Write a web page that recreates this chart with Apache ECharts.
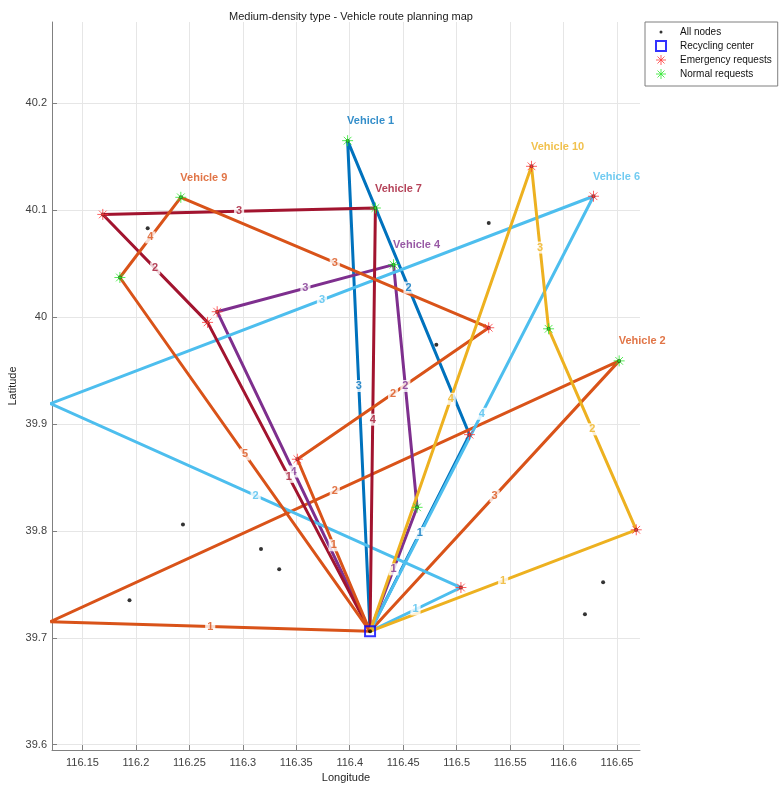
<!DOCTYPE html>
<html><head><meta charset="utf-8">
<script src="https://cdn.jsdelivr.net/npm/echarts@6/dist/echarts.min.js"></script>
<style>html,body{margin:0;padding:0;background:#fff}#c{width:780px;height:787px}</style>
</head><body><div id="c"></div>
<script>
const chartTitle = 'Medium-density type - Vehicle route planning map';
const xTicks = [116.15,116.2,116.25,116.3,116.35,116.4,116.45,116.5,116.55,116.6,116.65];
const yTicks = [39.6,39.7,39.8,39.9,40,40.1,40.2];
const xRange = [116.1215, 116.6715];
const yRange = [39.595, 40.276];
const center = [116.419, 39.706];
const otherNodes = [[116.211,40.083],[116.530,40.088],[116.481,39.974],[116.244,39.806],[116.317,39.783],[116.334,39.764],[116.194,39.735],[116.637,39.752],[116.620,39.722]];

const vehicleNames = ['Vehicle 1','Vehicle 2','Vehicle 4','Vehicle 6','Vehicle 7','Vehicle 9','Vehicle 10'];
const vehicleColors = ['#0072BD','#D95319','#7E2F8E','#4DBEEE','#A2142F','#D95319','#EDB120'];
const stopsV1 = [[116.512,39.890],[116.398,40.165]];
const kindsV1 = ['E','N'];
const stopsV2 = [[116.120,39.715],[116.652,39.959]];
const kindsV2 = ['N','N'];
const stopsV4 = [[116.463,39.822],[116.441,40.049],[116.276,40.005]];
const kindsV4 = ['N','N','E'];
const stopsV6 = [[116.504,39.747],[116.120,39.919],[116.628,40.113]];
const kindsV6 = ['E','N','E'];
const stopsV7 = [[116.267,39.995],[116.169,40.096],[116.424,40.102]];
const kindsV7 = ['E','E','N'];
const stopsV9 = [[116.351,39.867],[116.530,39.990],[116.242,40.112],[116.185,40.037]];
const kindsV9 = ['E','E','N','N'];
const stopsV10 = [[116.668,39.801],[116.586,39.989],[116.570,40.141]];
const kindsV10 = ['E','N','E'];

const allStops = [stopsV1, stopsV2, stopsV4, stopsV6, stopsV7, stopsV9, stopsV10];
const allKinds = [kindsV1, kindsV2, kindsV4, kindsV6, kindsV7, kindsV9, kindsV10];

const FONT = '"Liberation Sans", Arial, Helvetica, sans-serif';
const ASTERISK = 'path://M5,0L5,10M0,5L10,5M1.5,1.5L8.5,8.5M1.5,8.5L8.5,1.5';
const SQUARE = 'path://M0,0L10,0L10,10L0,10Z';
const DOT = 'path://M0,0L0.01,0L0,0.01Z M10,10L9.99,10L10,9.99Z M5,3.5A1.5,1.5 0 1 1 5,6.5A1.5,1.5 0 1 1 5,3.5Z';
const RED = '#ff3b3b', GREEN = '#2ee62e', BLUE = '#0000ff';

const series = [];
allStops.forEach((stops, i) => {
  const route = [center].concat(stops, [center]);
  const color = vehicleColors[i];
  series.push({ type:'line', name: vehicleNames[i], data: route, symbol:'none', silent:true,
    lineStyle:{width:3, color}, itemStyle:{color}, z:2 });
  const mids = [];
  for (let k = 0; k < route.length - 1; k++) {
    mids.push([(route[k][0] + route[k+1][0]) / 2, (route[k][1] + route[k+1][1]) / 2, k + 1]);
  }
  series.push({ type:'scatter', data: mids, symbol:'circle', symbolSize:1, silent:true, z:4,
    itemStyle:{color:'transparent'},
    label:{show:true, position:'inside', formatter: p => String(p.value[2]), color,
      fontWeight:'bold', fontSize:11, fontFamily:FONT, backgroundColor:'#fff', padding:[1,2,0,2]} });
  const top = stops.reduce((a, b) => b[1] > a[1] ? b : a);
  series.push({ type:'scatter', data:[top], symbol:'circle', symbolSize:1, silent:true, z:4,
    itemStyle:{color:'transparent'},
    label:{show:true, formatter: vehicleNames[i], position:[0,-19], align:'left', verticalAlign:'middle',
      color, fontWeight:'bold', fontSize:11, fontFamily:FONT} });
});

const allNodeData = otherNodes.concat(...allStops, [center]);
const emergencyData = [], normalData = [];
allStops.forEach((stops, i) => stops.forEach((s, j) => {
  (allKinds[i][j] === 'E' ? emergencyData : normalData).push(s);
}));

series.push({ type:'scatter', name:'All nodes', data: allNodeData, symbol:'circle', symbolSize:4,
  itemStyle:{color:'#000'}, z:5, silent:true });
series.push({ type:'scatter', name:'Recycling center', data:[center], symbol:SQUARE, symbolSize:10,
  itemStyle:{color:'transparent', borderColor:BLUE, borderWidth:2}, z:6, silent:true });
series.push({ type:'scatter', name:'Emergency requests', data: emergencyData, symbol:ASTERISK, symbolSize:11,
  itemStyle:{color:'transparent', borderColor:RED, borderWidth:1}, z:6, silent:true });
series.push({ type:'scatter', name:'Normal requests', data: normalData, symbol:ASTERISK, symbolSize:11,
  itemStyle:{color:'transparent', borderColor:GREEN, borderWidth:1}, z:6, silent:true });

const axisCommon = {
  type:'value',
  nameLocation:'middle',
  nameMoveOverlap:false,
  nameTextStyle:{fontSize:11, color:'#262626', fontFamily:FONT},
  axisLine:{show:true, onZero:false, lineStyle:{color:'#808080', width:1}},
  splitLine:{show:true, lineStyle:{color:'#e6e6e6', width:1}}
};

const option = {
  animation:false,
  backgroundColor:'#fff',
  textStyle:{fontFamily:FONT},
  title:{ text: chartTitle, left: 346, top: 6, textAlign:'center',
    textStyle:{fontSize:11, fontWeight:'normal', color:'#1a1a1a', fontFamily:FONT} },
  legend:{
    orient:'vertical', left:645, top:22,
    itemWidth:26, itemHeight:10, itemGap:2,
    padding:[4,6,6,10],
    borderColor:'#7f7f7f', borderWidth:1, backgroundColor:'#fff',
    textStyle:{fontSize:10, color:'#111', fontFamily:FONT, lineHeight:12, padding:[0,0,0,1]},
    data:[
      {name:'All nodes', icon:DOT, itemStyle:{color:'#000', borderColor:'transparent', borderWidth:0}},
      {name:'Recycling center', icon:SQUARE, itemStyle:{color:'transparent', borderColor:BLUE, borderWidth:2}},
      {name:'Emergency requests', icon:ASTERISK, itemStyle:{color:'transparent', borderColor:RED, borderWidth:1}},
      {name:'Normal requests', icon:ASTERISK, itemStyle:{color:'transparent', borderColor:GREEN, borderWidth:1}}
    ],
    selectedMode:false
  },
  grid:{ left:52, right:140, top:22, bottom:37, containLabel:false, outerBoundsMode:'none' },
  xAxis: Object.assign({}, axisCommon, {
    min:xRange[0], max:xRange[1], name:'Longitude', nameGap:22,
    axisTick:{show:true, inside:true, length:5, customValues:xTicks, lineStyle:{color:'#808080'}},
    axisLabel:{customValues:xTicks, fontSize:11, color:'#404040', margin:7, fontFamily:FONT}
  }),
  yAxis: Object.assign({}, axisCommon, {
    min:yRange[0], max:yRange[1], name:'Latitude', nameGap:34,
    axisTick:{show:true, inside:true, length:5, customValues:yTicks, lineStyle:{color:'#808080'}},
    axisLabel:{customValues:yTicks, fontSize:11, color:'#404040', margin:5, fontFamily:FONT}
  }),
  series
};

const chart = echarts.init(document.getElementById('c'));
chart.setOption(option);
</script>
</body></html>
